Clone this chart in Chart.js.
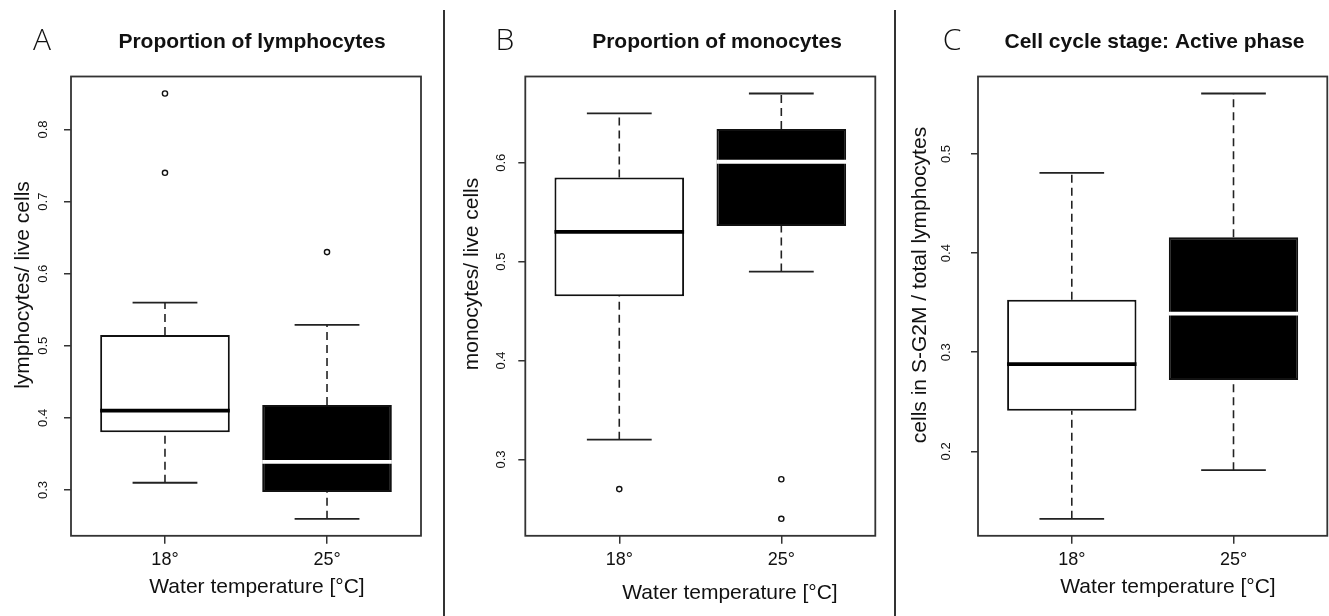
<!DOCTYPE html>
<html>
<head>
<meta charset="utf-8">
<script src="https://cdn.jsdelivr.net/npm/chart.js@4.4.0/dist/chart.umd.min.js"></script>
<style>
  body { margin: 0; background: #fff; }
  #wrap { position: relative; width: 1329px; height: 616px; }
  canvas { position: absolute; left: 0; top: 0; }
  .sep { position: absolute; top: 10px; width: 2px; height: 606px; background: #333; }
</style>
</head>
<body>
<div id="wrap">
  <div class="sep" style="left:443px"></div>
  <div class="sep" style="left:894px"></div>
  <canvas id="chartA" width="1329" height="616"></canvas>
  <canvas id="chartB" width="1329" height="616"></canvas>
  <canvas id="chartC" width="1329" height="616"></canvas>
</div>
<script>
const categories = ["18°", "25°"];

// lower whisker, Q1, median, Q3, upper whisker
const lymph18 = [0.31, 0.38, 0.41, 0.515, 0.56];
const lymph25 = [0.26, 0.297, 0.339, 0.418, 0.529];
const lymphOut18 = [0.74, 0.85];
const lymphOut25 = [0.63];
const lymphTicks = [0.3, 0.4, 0.5, 0.6, 0.7, 0.8];

const mono18 = [0.32, 0.465, 0.53, 0.585, 0.65];
const mono25 = [0.49, 0.536, 0.601, 0.634, 0.67];
const monoOut18 = [0.27];
const monoOut25 = [0.28, 0.24];
const monoTicks = [0.3, 0.4, 0.5, 0.6];

const cycle18 = [0.132, 0.241, 0.288, 0.353, 0.481];
const cycle25 = [0.181, 0.272, 0.339, 0.416, 0.561];
const cycleOut18 = [];
const cycleOut25 = [];
const cycleTicks = [0.2, 0.3, 0.4, 0.5];

const FONT = '"Liberation Sans", Arial, sans-serif';

const panelText = {
  id: "panelText",
  afterDraw(chart, args, opts) {
    const ctx = chart.ctx;
    const area = chart.chartArea;
    const y = chart.scales.y;
    ctx.save();
    ctx.strokeStyle = "#333";
    ctx.lineWidth = 1.8;
    ctx.strokeRect(area.left, area.top, area.right - area.left, area.bottom - area.top);

    ctx.fillStyle = "#111";
    ctx.textAlign = "center";
    ctx.textBaseline = "middle";

    ctx.font = "13px " + FONT;
    y.ticks.forEach((t) => {
      ctx.save();
      ctx.translate(opts.tickX, y.getPixelForValue(t.value));
      ctx.rotate(-Math.PI / 2);
      ctx.fillText(t.value.toFixed(1), 0, 0);
      ctx.restore();
    });

    ctx.font = "21px " + FONT;
    ctx.save();
    ctx.translate(opts.yTitleX, opts.yTitleY);
    ctx.rotate(-Math.PI / 2);
    ctx.fillText(opts.yTitle, 0, 0);
    ctx.restore();
    ctx.fillText("Water temperature [°C]", opts.xTitleX, opts.xTitleY);

    ctx.font = "bold 21px " + FONT;
    ctx.fillText(opts.title, opts.titleX, 42.5);

    ctx.font = '300 30px "Open Sans", ' + FONT;
    ctx.fillText(opts.letter, opts.letterX, 41);
    ctx.restore();
  },
};

function buildDatasets(s18, s25, o18, o25) {
  const groups = [s18, s25];
  const fills = ["#ffffff", "#000000"];
  const medColors = ["#000000", "#ffffff"];
  const ds = [];
  groups.forEach((s, i) => {
    const x = i + 1;
    ds.push({
      type: "line",
      data: [{ x: x, y: s[0] }, { x: x, y: s[1] }, { x: x, y: null }, { x: x, y: s[3] }, { x: x, y: s[4] }],
      borderColor: "#222", borderWidth: 1.6, borderDash: [8, 5], pointRadius: 0, order: 3,
    });
    ds.push({
      type: "line",
      data: [{ x: x - 0.2, y: s[0] }, { x: x + 0.2, y: s[0] }, { x: x + 0.2, y: null }, { x: x - 0.2, y: s[4] }, { x: x + 0.2, y: s[4] }],
      borderColor: "#222", borderWidth: 1.8, pointRadius: 0, order: 3,
    });
    ds.push({
      type: "line",
      data: [{ x: x - 0.4, y: s[2] }, { x: x + 0.4, y: s[2] }],
      borderColor: medColors[i], borderWidth: 3.8, pointRadius: 0, order: 0,
    });
  });
  ds.push({
    type: "bar",
    data: groups.map((s, i) => ({ x: i + 1, y: [s[1], s[3]] })),
    backgroundColor: fills,
    borderColor: "#111",
    borderWidth: 2,
    borderSkipped: false,
    barPercentage: 1,
    categoryPercentage: 0.8,
    order: 1,
  });
  ds.push({
    type: "scatter",
    data: [...o18.map((v) => ({ x: 1, y: v })), ...o25.map((v) => ({ x: 2, y: v }))],
    pointRadius: 2.6,
    pointBorderWidth: 1.4,
    borderColor: "#111",
    backgroundColor: "rgba(0,0,0,0)",
    order: 0,
  });
  return ds;
}

function yRange(s18, s25, o18, o25) {
  const all = [...s18, ...s25, ...o18, ...o25];
  const lo = Math.min(...all);
  const hi = Math.max(...all);
  const pad = (hi - lo) * 0.04;
  return [lo - pad, hi + pad];
}

function createPanel(id, s18, s25, o18, o25, ticks, left, right, text) {
  const [ymin, ymax] = yRange(s18, s25, o18, o25);
  new Chart(document.getElementById(id), {
    type: "bar",
    data: { datasets: buildDatasets(s18, s25, o18, o25) },
    options: {
      responsive: false,
      animation: false,
      devicePixelRatio: 1,
      events: [],
      layout: { padding: { left: left - 7, right: 1329 - right, top: 76.5, bottom: 40.2 } },
      plugins: { legend: { display: false }, tooltip: { enabled: false }, panelText: text },
      scales: {
        x: {
          type: "linear",
          min: 0.42,
          max: 2.58,
          offset: false,
          border: { display: false },
          grid: { offset: false, drawOnChartArea: false, drawTicks: true, tickLength: 8, color: "#333", lineWidth: 1.5 },
          ticks: {
            color: "#111",
            font: { family: FONT, size: 18 },
            padding: 5,
            maxRotation: 0,
            autoSkip: false,
            callback: (value, index) => categories[index],
          },
          afterBuildTicks: (axis) => { axis.ticks = categories.map((c, i) => ({ value: i + 1 })); },
          afterFit: (axis) => { axis.height = 40; },
        },
        y: {
          type: "linear",
          min: ymin,
          max: ymax,
          beginAtZero: false,
          border: { display: false },
          grid: { drawOnChartArea: false, drawTicks: true, tickLength: 7, color: "#333", lineWidth: 1.5 },
          ticks: { display: false },
          afterBuildTicks: (axis) => { axis.ticks = ticks.map((v) => ({ value: v })); },
          afterFit: (axis) => { axis.width = 7; },
        },
      },
    },
    plugins: [panelText],
  });
}

createPanel("chartA", lymph18, lymph25, lymphOut18, lymphOut25, lymphTicks, 71, 421, {
  letter: "A", letterX: 42, title: "Proportion of lymphocytes", titleX: 252,
  yTitle: "lymphocytes/ live cells", yTitleX: 23, yTitleY: 285, tickX: 43.5,
  xTitleX: 257, xTitleY: 587,
});
createPanel("chartB", mono18, mono25, monoOut18, monoOut25, monoTicks, 525.3, 875.3, {
  letter: "B", letterX: 505, title: "Proportion of monocytes", titleX: 717,
  yTitle: "monocytes/ live cells", yTitleX: 472, yTitleY: 274, tickX: 501,
  xTitleX: 730, xTitleY: 593,
});
createPanel("chartC", cycle18, cycle25, cycleOut18, cycleOut25, cycleTicks, 978, 1327.3, {
  letter: "C", letterX: 952, title: "Cell cycle stage: Active phase", titleX: 1154.5,
  yTitle: "cells in S-G2M / total lymphocytes", yTitleX: 920, yTitleY: 285, tickX: 946,
  xTitleX: 1168, xTitleY: 587,
});
</script>
</body>
</html>
